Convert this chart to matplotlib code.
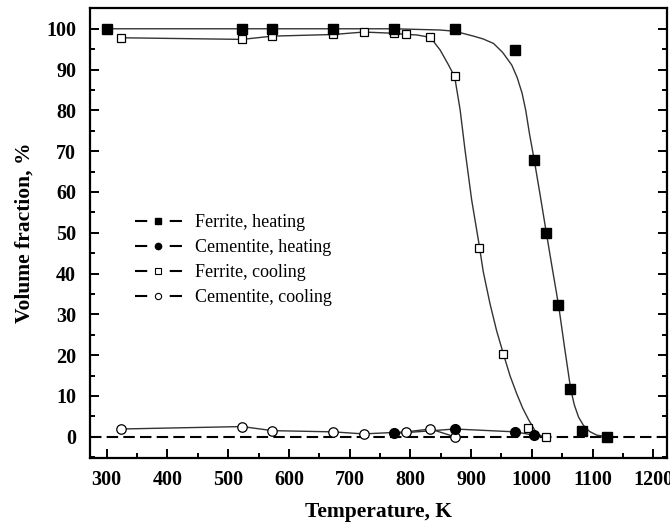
import matplotlib
matplotlib.use("Agg")
import matplotlib.pyplot as plt
from matplotlib.lines import Line2D
from matplotlib.ticker import MultipleLocator

plt.rcParams['font.family'] = ['Liberation Serif', 'DejaVu Serif']

# ---- data ----
ferrite_heat_T = [300, 523, 573, 673, 773, 873, 973, 1003, 1023, 1043, 1063, 1083, 1123]
ferrite_heat_v = [100, 100, 100, 100, 100, 100, 94.8, 67.8, 49.9, 32.3, 11.7, 1.5, 0.0]

cement_heat_T = [773, 873, 973, 1003]
cement_heat_v = [0.8, 1.9, 1.2, 0.4]

ferrite_cool_T = [323, 523, 573, 673, 723, 773, 793, 833, 873, 913, 953, 993, 1023]
ferrite_cool_v = [97.8, 97.4, 98.2, 98.6, 99.2, 98.9, 98.6, 97.9, 88.4, 46.2, 20.4, 2.1, 0.0]

cement_cool_T = [323, 523, 573, 673, 723, 793, 833, 873]
cement_cool_v = [1.9, 2.5, 1.5, 1.2, 0.7, 1.2, 1.9, 0.0]

# fitted curves
heat_fit_T = [300, 773, 849, 873, 904, 920, 937, 952, 967, 976, 984, 990, 996, 1004,
              1014, 1024, 1034, 1044, 1054, 1064, 1070, 1077, 1085, 1095, 1107, 1124]
heat_fit_v = [100, 100, 99.7, 99.4, 98.2, 97.5, 96.4, 94.2, 91.1, 88.0, 84.2, 80.0, 74.4, 67.8,
              59.0, 49.9, 41.0, 32.3, 21.8, 11.7, 7.8, 4.8, 2.8, 1.3, 0.4, 0.0]

cool_fit_T = [323, 523, 573, 673, 723, 773, 793, 810, 833, 849, 863, 873, 882, 890, 901,
              912, 920, 931, 942, 953, 964, 975, 985, 995, 1008, 1016, 1024]
cool_fit_v = [97.8, 97.4, 98.2, 98.6, 99.2, 98.9, 98.6, 98.5, 97.9, 94.8, 91.1, 88.2, 80.1, 70.3, 58.0,
              48.2, 40.5, 32.7, 26.0, 20.4, 15.0, 10.6, 7.0, 4.1, 0.8, 0.2, 0.0]

legend_labels = ["Ferrite, heating", "Cementite, heating", "Ferrite, cooling", "Cementite, cooling"]
x_ticks = list(range(300, 1201, 100))
y_ticks = list(range(0, 101, 10))

# ---- figure ----
fig = plt.figure(figsize=(6.7, 5.24), dpi=100)
ax = fig.add_axes([0.1343, 0.126, 0.8607, 0.858])

curve_c = '#333333'
ax.axhline(0, color='black', lw=1.5, ls=(0, (5.5, 2.5)), zorder=1)

ax.plot(heat_fit_T, heat_fit_v, color=curve_c, lw=1.0, zorder=2)
ax.plot(cool_fit_T, cool_fit_v, color=curve_c, lw=1.0, zorder=2)
ax.plot(cement_heat_T, cement_heat_v, color=curve_c, lw=1.0, zorder=2)
ax.plot(cement_cool_T, cement_cool_v, color=curve_c, lw=1.0, zorder=2)

ax.plot(ferrite_cool_T, ferrite_cool_v, ls='none', marker='s', ms=6.2,
        mfc='white', mec='black', mew=0.9, zorder=3)
ax.plot(cement_cool_T, cement_cool_v, ls='none', marker='o', ms=6.8,
        mfc='white', mec='black', mew=0.9, zorder=3)
ax.plot(ferrite_heat_T, ferrite_heat_v, ls='none', marker='s', ms=7.0,
        mfc='black', mec='black', zorder=4)
ax.plot(cement_heat_T, cement_heat_v, ls='none', marker='o', ms=7.0,
        mfc='black', mec='black', zorder=4)

ax.set_xlim(272.5, 1222)
ax.set_ylim(-5.2, 105.0)
ax.set_xticks(x_ticks)
ax.set_yticks(y_ticks)
ax.xaxis.set_minor_locator(MultipleLocator(50))
ax.yaxis.set_minor_locator(MultipleLocator(5))

for s in ax.spines.values():
    s.set_linewidth(1.6)

ax.tick_params(which='both', direction='in', top=False, right=True, width=1.4)
ax.tick_params(which='major', length=6.5)
ax.tick_params(which='minor', length=3.8)
ax.tick_params(axis='x', which='major', pad=9)
ax.tick_params(axis='y', which='major', pad=10)

for lab in ax.get_xticklabels() + ax.get_yticklabels():
    lab.set_fontsize(14.5)
    lab.set_fontweight('bold')

ax.set_xlabel("Temperature, K", fontsize=15.5, fontweight='bold', labelpad=8)
ax.set_ylabel("Volume fraction, %", fontsize=15.5, fontweight='bold', labelpad=8)

# legend with gapped handles
fs = 13
hl = 2.6
L = hl * fs
hlw = 1.5
dash = (0.26 * L / hlw, 0.48 * L / hlw)
handles = [
    Line2D([], [], color='black', lw=hlw, dashes=dash, marker='s', ms=4, mfc='black', mec='black'),
    Line2D([], [], color='black', lw=hlw, dashes=dash, marker='o', ms=4.5, mfc='black', mec='black'),
    Line2D([], [], color='black', lw=hlw, dashes=dash, marker='s', ms=4, mfc='white', mec='black', mew=0.8),
    Line2D([], [], color='black', lw=hlw, dashes=dash, marker='o', ms=4.5, mfc='white', mec='black', mew=0.8),
]
fig.legend(handles, legend_labels, loc='upper left', bbox_to_anchor=(135 / 670, 1 - 214 / 524),
           frameon=False, fontsize=fs, handlelength=hl, handletextpad=0.75,
           labelspacing=0.45, borderpad=0, borderaxespad=0)

fig.savefig("out.png", dpi=100)
